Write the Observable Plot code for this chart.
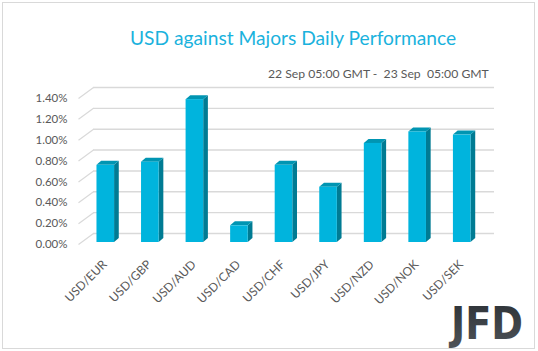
<!DOCTYPE html>
<html><head><meta charset="utf-8">
<script src="https://cdn.jsdelivr.net/npm/d3@7"></script>
<script src="https://cdn.jsdelivr.net/npm/@observablehq/plot@0.6"></script>
<style>
body{margin:0;background:#fff;}
#wrap{position:relative;width:538px;height:351px;overflow:hidden;font-family:Lato,"Open Sans",sans-serif;}
#border{position:absolute;left:2px;top:2px;width:531px;height:345px;border:1px solid #d9d9d9;}
#title{position:absolute;left:130px;top:26px;font-size:19.2px;color:#1ab2dd;white-space:pre;}
#sub{position:absolute;left:268px;top:66px;font-size:12.2px;color:#595959;white-space:pre;}
#chart{position:absolute;left:0;top:0;}
#logo{position:absolute;left:0;top:0;}
</style></head>
<body>
<div id="wrap">
<div id="border"></div>
<div id="chart"></div>
<div id="title">USD against Majors Daily Performance</div>
<div id="sub">22 Sep 05:00 GMT -  23 Sep  05:00 GMT</div>
<svg id="logo" width="538" height="351">
  <defs><linearGradient id="lg" x1="0" y1="0" x2="0" y2="1"><stop offset="0" stop-color="#2c3136"/><stop offset="1" stop-color="#4e5358"/></linearGradient></defs>
  <text x="451" y="339" font-family="DejaVu Sans" font-weight="bold" font-size="44" fill="url(#lg)" textLength="72" lengthAdjust="spacingAndGlyphs">JFD</text>
</svg>
</div>
<script>
const labels = ["USD/EUR","USD/GBP","USD/AUD","USD/CAD","USD/CHF","USD/JPY","USD/NZD","USD/NOK","USD/SEK"];
const values = [0.74, 0.77, 1.37, 0.16, 0.74, 0.53, 0.95, 1.06, 1.03];
const yTicks = [0, 0.2, 0.4, 0.6, 0.8, 1.0, 1.2, 1.4];

const W = 538, H = 351, mL = 83, mR = 54, mT = 96, mB = 109;
const pxX = (W - mL - mR) / labels.length;
const pxY = (H - mT - mB) / 1.4;
const hw = 8.8 / pxX, depX = 4.7 / pxX, depY = 4 / pxY;

const bars = values.map((v, i) => ({i, v, label: labels[i]}));
const sidePts = bars.flatMap(d => [
  {i: d.i, x: d.i + hw, y1: 0, y2: d.v},
  {i: d.i, x: d.i + hw + depX, y1: depY, y2: d.v + depY}
]);
const topPts = bars.flatMap(d => [
  {i: d.i, y: d.v, x1: d.i - hw, x2: d.i + hw},
  {i: d.i, y: d.v + depY, x1: d.i - hw + depX, x2: d.i + hw + depX}
]);

const plot = Plot.plot({
  width: W, height: H,
  marginLeft: mL, marginRight: mR, marginTop: mT, marginBottom: mB,
  style: {background: "transparent", fontFamily: "Lato, 'Open Sans', sans-serif"},
  x: {domain: [-0.5, labels.length - 0.5]},
  y: {domain: [0, 1.4]},
  marks: [
    Plot.ruleY(yTicks, {dx: 10, dy: -9, stroke: "#d9d9d9", strokeWidth: 1.4}),
    Plot.link(yTicks, {x1: -0.5 - 5 / pxX, x2: -0.5 + 10 / pxX, y1: d => d - 2 / pxY, y2: d => d + 9 / pxY, stroke: "#d9d9d9", strokeWidth: 1.2}),
    Plot.areaY(sidePts, {x: "x", y1: "y1", y2: "y2", z: "i", fill: "#007b93", curve: "linear"}),
    Plot.areaX(topPts, {y: "y", x1: "x1", x2: "x2", z: "i", fill: "#0095b2", curve: "linear"}),
    Plot.rectY(bars, {x1: d => d.i - hw, x2: d => d.i + hw, y1: 0, y2: "v", fill: "#00b4dd"}),
    Plot.axisY(yTicks, {tickSize: 0, tickPadding: 16, dy: 2, tickFormat: d => d.toFixed(2) + "%", fill: "#595959", fontSize: 11.5, label: null}),
    Plot.axisX(d3.range(labels.length), {tickSize: 0, tickPadding: 20, tickRotate: -45, dx: -1, tickFormat: i => labels[i], fill: "#595959", fontSize: 12, label: null})
  ]
});
document.getElementById("chart").appendChild(plot);
</script>
</body></html>
